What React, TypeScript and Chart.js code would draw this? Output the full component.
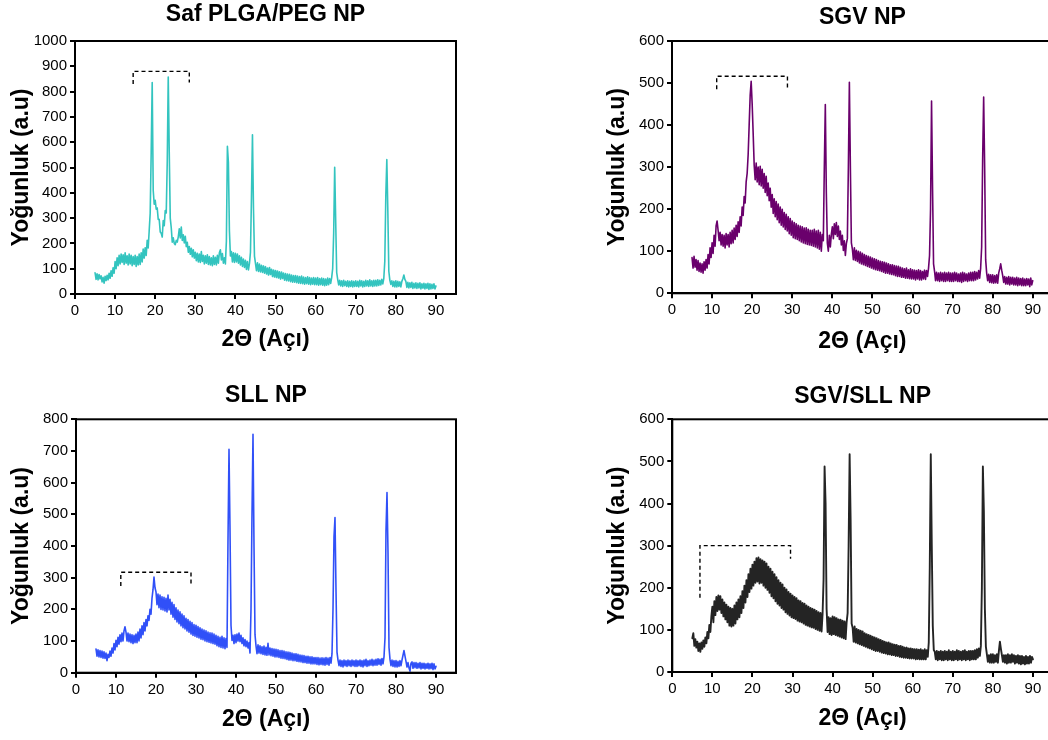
import React, { useEffect, useRef } from "react";
import { Chart, registerables } from "chart.js";

Chart.register(...registerables);

// 2θ sampling grid of the diffractograms (degrees)
const TWO_THETA_START = 5;
const TWO_THETA_STEP = 0.25;

// Tick labels
const X_TICK_VALUES = [0, 10, 20, 30, 40, 50, 60, 70, 80, 90];

// Intensity (a.u.), one value per 0.25° from 5° to 90°, each row = 5°
const PLGA_PEG = [
  84, 58, 80, 56, 77, 60, 72, 48, 66, 43, 70, 53, 74, 56, 82, 62, 92, 70, 104, 82,
  128, 100, 143, 112, 153, 119, 158, 125, 155, 117, 163, 122, 151, 115, 158, 119, 153, 112, 148, 117,
  153, 109, 148, 115, 158, 117, 163, 127, 178, 142, 183, 152, 212, 182, 250, 320, 560, 836, 410, 355,
  370, 335, 340, 295, 295, 245, 240, 225, 290, 270, 330, 320, 520, 858, 560, 300, 262, 205, 222, 200,
  195, 212, 205, 226, 258, 222, 265, 212, 234, 202, 228, 187, 204, 165, 188, 157, 181, 147, 175, 142,
  165, 132, 161, 127, 158, 125, 168, 129, 153, 119, 151, 122, 155, 117, 148, 115, 143, 112, 151, 117,
  145, 115, 153, 122, 163, 175, 135, 160, 122, 143, 119, 210, 584, 520, 250, 150, 168, 127, 163, 125,
  161, 127, 158, 122, 151, 115, 145, 109, 138, 105, 133, 97, 128, 95, 121, 165, 380, 629, 340, 150,
  121, 92, 123, 89, 118, 87, 113, 85, 111, 82, 108, 79, 103, 75, 105, 77, 98, 69, 95, 67,
  93, 65, 91, 63, 88, 59, 87, 61, 83, 55, 81, 53, 79, 52, 78, 49, 75, 47, 73, 47,
  73, 45, 71, 43, 69, 42, 71, 41, 67, 39, 65, 41, 68, 39, 65, 37, 63, 39, 65, 37,
  63, 37, 65, 35, 61, 37, 63, 35, 61, 33, 59, 35, 63, 37, 61, 42, 65, 100, 240, 501,
  290, 85, 58, 36, 54, 32, 52, 30, 54, 33, 50, 30, 52, 28, 50, 30, 52, 28, 50, 30,
  52, 30, 50, 28, 54, 32, 52, 28, 50, 30, 54, 32, 52, 30, 56, 32, 52, 30, 54, 32,
  54, 32, 56, 34, 54, 36, 58, 40, 62, 130, 390, 531, 330, 90, 55, 38, 52, 30, 50, 28,
  52, 28, 50, 30, 48, 28, 50, 60, 75, 58, 50, 26, 46, 24, 44, 26, 46, 22, 42, 24,
  44, 22, 42, 24, 44, 20, 40, 23, 42, 20, 40, 22, 42, 18, 40, 20, 38, 22, 40, 20, 32,
];

const SGV = [
  85, 60, 88, 62, 80, 55, 78, 52, 72, 50, 70, 48, 75, 55, 80, 60, 92, 70, 108, 85,
  120, 95, 138, 112, 160, 172, 150, 125, 145, 115, 140, 112, 138, 108, 142, 115, 140, 110, 145, 118,
  150, 120, 155, 128, 162, 135, 170, 145, 182, 160, 205, 185, 230, 215, 265, 285, 330, 400, 470, 504,
  450, 380, 305, 270, 310, 265, 300, 258, 302, 255, 295, 250, 285, 240, 278, 232, 262, 220, 250, 205,
  235, 190, 225, 182, 218, 175, 212, 168, 205, 162, 200, 158, 192, 152, 188, 148, 182, 142, 178, 138,
  172, 132, 168, 130, 165, 128, 162, 125, 160, 122, 158, 120, 155, 118, 156, 116, 152, 115, 150, 114,
  150, 112, 152, 110, 148, 108, 150, 105, 145, 100, 140, 125, 300, 449, 240, 120, 100, 138, 110, 140,
  158, 130, 165, 140, 168, 135, 160, 128, 148, 115, 138, 102, 125, 90, 118, 130, 300, 502, 300, 120,
  105, 80, 108, 78, 102, 76, 100, 72, 98, 70, 95, 68, 92, 66, 90, 64, 88, 62, 86, 60,
  84, 58, 82, 56, 80, 55, 78, 54, 76, 52, 75, 50, 74, 48, 72, 48, 70, 46, 68, 45,
  68, 44, 66, 42, 65, 40, 64, 40, 62, 38, 60, 38, 58, 36, 60, 36, 56, 35, 58, 34,
  56, 34, 55, 32, 54, 34, 56, 32, 54, 32, 52, 34, 55, 33, 54, 40, 60, 90, 200, 457,
  250, 70, 52, 30, 50, 30, 48, 28, 50, 30, 48, 28, 50, 28, 48, 30, 50, 28, 48, 28,
  48, 28, 50, 30, 48, 28, 46, 28, 48, 26, 50, 28, 48, 30, 46, 28, 48, 30, 50, 30,
  50, 30, 52, 32, 50, 34, 54, 36, 60, 110, 320, 467, 300, 80, 48, 30, 45, 26, 44, 25,
  44, 24, 42, 25, 44, 24, 48, 58, 70, 55, 42, 26, 40, 22, 38, 22, 40, 20, 38, 22,
  38, 20, 36, 20, 38, 18, 36, 20, 35, 18, 36, 18, 34, 18, 35, 20, 34, 16, 36, 20, 30,
];

const SLL = [
  75, 52, 72, 50, 70, 48, 68, 46, 66, 45, 62, 38, 58, 48, 68, 52, 78, 62, 92, 72,
  102, 82, 112, 90, 120, 98, 125, 100, 132, 145, 128, 100, 125, 98, 122, 95, 120, 92, 118, 95,
  122, 95, 128, 100, 138, 110, 148, 120, 158, 132, 168, 148, 180, 165, 200, 185, 235, 262, 302, 268,
  255, 215, 248, 205, 245, 200, 240, 198, 238, 195, 235, 192, 245, 198, 232, 185, 222, 175, 215, 168,
  205, 160, 198, 155, 192, 148, 185, 142, 180, 138, 172, 132, 168, 128, 162, 122, 158, 118, 152, 115,
  150, 112, 146, 110, 142, 106, 138, 104, 135, 100, 132, 98, 128, 96, 126, 94, 125, 92, 122, 90,
  118, 85, 115, 82, 112, 80, 115, 78, 110, 76, 108, 80, 420, 705, 455, 150, 102, 118, 92, 120,
  95, 122, 100, 125, 98, 118, 92, 110, 85, 105, 82, 100, 78, 95, 62, 200, 500, 753, 400, 120,
  85, 60, 88, 62, 85, 60, 82, 58, 84, 56, 80, 55, 93, 56, 78, 54, 76, 52, 75, 50,
  74, 50, 72, 48, 70, 46, 70, 45, 68, 44, 66, 42, 65, 40, 64, 40, 62, 38, 60, 38,
  60, 36, 58, 35, 56, 34, 55, 32, 54, 32, 52, 30, 52, 30, 50, 28, 50, 28, 48, 28,
  48, 26, 48, 25, 46, 26, 47, 25, 46, 24, 48, 26, 46, 24, 48, 30, 60, 200, 430, 490,
  260, 65, 40, 22, 40, 20, 38, 18, 40, 22, 38, 20, 40, 22, 38, 20, 40, 22, 38, 20,
  40, 20, 38, 22, 40, 20, 38, 18, 40, 22, 42, 20, 38, 22, 40, 24, 42, 22, 40, 24,
  42, 24, 44, 26, 42, 24, 45, 28, 50, 110, 450, 569, 380, 80, 42, 22, 40, 20, 38, 18,
  38, 18, 36, 20, 38, 22, 40, 55, 70, 52, 36, 18, 32, 15, 5, 30, 34, 14, 32, 16,
  32, 14, 30, 15, 32, 12, 30, 14, 30, 12, 28, 14, 30, 12, 28, 13, 30, 10, 28, 12, 20,
];

const SGV_SLL = [
  80, 92, 62, 78, 58, 72, 50, 68, 48, 70, 55, 75, 60, 82, 68, 95, 80, 112, 95, 132,
  155, 118, 168, 135, 178, 145, 182, 148, 180, 140, 172, 132, 165, 125, 160, 118, 155, 110, 152, 108,
  150, 110, 158, 115, 165, 125, 172, 130, 180, 140, 192, 152, 205, 165, 218, 178, 232, 190, 245, 198,
  255, 205, 262, 212, 270, 215, 272, 210, 268, 212, 265, 205, 262, 200, 258, 195, 250, 188, 245, 180,
  238, 175, 232, 168, 225, 162, 218, 158, 212, 152, 208, 148, 200, 142, 196, 138, 190, 134, 186, 130,
  182, 128, 178, 126, 175, 122, 170, 120, 168, 118, 164, 115, 162, 112, 158, 110, 155, 108, 152, 106,
  150, 105, 148, 102, 145, 100, 142, 98, 140, 96, 138, 220, 488, 400, 150, 95, 130, 90, 128, 88,
  132, 90, 130, 88, 128, 86, 125, 84, 124, 82, 122, 80, 120, 78, 118, 140, 300, 517, 360, 115,
  105, 72, 108, 70, 102, 68, 100, 66, 98, 64, 96, 62, 92, 60, 90, 58, 88, 56, 86, 54,
  84, 52, 82, 50, 80, 50, 78, 48, 76, 46, 74, 45, 72, 44, 70, 42, 70, 42, 68, 40,
  66, 40, 65, 38, 64, 38, 62, 36, 62, 35, 60, 34, 58, 34, 58, 33, 56, 32, 56, 32,
  55, 32, 54, 30, 54, 31, 53, 30, 54, 30, 52, 30, 54, 30, 52, 36, 70, 250, 517, 300,
  110, 52, 48, 30, 50, 28, 48, 30, 50, 28, 48, 28, 50, 30, 48, 28, 52, 30, 48, 28,
  50, 28, 48, 30, 52, 28, 50, 30, 48, 28, 50, 30, 52, 28, 48, 30, 50, 28, 50, 30,
  50, 30, 52, 30, 54, 34, 56, 38, 62, 200, 488, 380, 150, 60, 42, 24, 40, 22, 42, 22,
  42, 22, 40, 24, 42, 22, 50, 72, 55, 40, 24, 40, 22, 40, 20, 42, 22, 40, 22, 42,
  24, 40, 20, 38, 22, 40, 20, 38, 18, 38, 20, 36, 18, 38, 20, 36, 20, 38, 22, 36, 30,
];

// Dashed brackets marking the amorphous region (2θ, intensity)
const BRACKET_PLGA_X = [14.5, 14.5, 28.5, 28.5];
const BRACKET_PLGA_Y = [830, 880, 880, 836];
const BRACKET_SGV_X = [11.15, 11.15, 28.8, 28.8];
const BRACKET_SGV_Y = [485, 516, 516, 486];
const BRACKET_SLL_X = [11.2, 11.2, 28.75, 28.75];
const BRACKET_SLL_Y = [274, 317, 317, 274];
const BRACKET_MIX_X = [6.9, 6.9, 29.5, 29.5];
const BRACKET_MIX_Y = [176, 300, 300, 269];

const TITLES = ["Saf PLGA/PEG NP", "SGV NP", "SLL NP", "SGV/SLL NP"];
const X_TITLE = "2Θ (Açı)";
const Y_TITLE = "Yoğunluk (a.u)";

const FONT = "'Liberation Sans', Arial, Helvetica, sans-serif";

const framePlugin = {
  id: "frameBox",
  afterDatasetsDraw(chart: any) {
    const { ctx, chartArea: a } = chart;
    ctx.save();
    ctx.strokeStyle = "#000";
    ctx.lineWidth = 2;
    ctx.strokeRect(a.left, a.top, a.right - a.left, a.bottom - a.top);
    ctx.restore();
  },
};

type PanelCfg = {
  title: string;
  values: number[];
  bx: number[];
  by: number[];
  color: string;
  lineW: number;
  yMax: number;
  left: number;
  top: number;
  w: number;
  h: number;
  yAxisW: number;
  xAxisH: number;
  padRight: number;
  titlePadTop: number;
  titlePadBottom: number;
  yTitlePad: number;
  xTitlePadBottom: number;
};

const PANELS: PanelCfg[] = [
  {
    title: TITLES[0], values: PLGA_PEG, bx: BRACKET_PLGA_X, by: BRACKET_PLGA_Y,
    color: "#33c4bf", lineW: 1.6, yMax: 1000,
    left: 0, top: 0, w: 470, h: 372, yAxisW: 75, xAxisH: 78, padRight: 14,
    titlePadTop: 1, titlePadBottom: 12.4, yTitlePad: 8, xTitlePadBottom: 19,
  },
  {
    title: TITLES[1], values: SGV, bx: BRACKET_SGV_X, by: BRACKET_SGV_Y,
    color: "#6a006c", lineW: 1.6, yMax: 600,
    left: 590, top: 0, w: 470, h: 372, yAxisW: 82, xAxisH: 78.7, padRight: 7.2,
    titlePadTop: 4, titlePadBottom: 9.4, yTitlePad: 14, xTitlePadBottom: 17,
  },
  {
    title: TITLES[2], values: SLL, bx: BRACKET_SLL_X, by: BRACKET_SLL_Y,
    color: "#3050f8", lineW: 1.6, yMax: 800,
    left: 0, top: 375, w: 470, h: 365, yAxisW: 76, xAxisH: 67.3, padRight: 14,
    titlePadTop: 7, titlePadBottom: 9.7, yTitlePad: 8, xTitlePadBottom: 7,
  },
  {
    title: TITLES[3], values: SGV_SLL, bx: BRACKET_MIX_X, by: BRACKET_MIX_Y,
    color: "#242424", lineW: 1.9, yMax: 600,
    left: 590, top: 375, w: 470, h: 365, yAxisW: 82.3, xAxisH: 68, padRight: 7,
    titlePadTop: 8, titlePadBottom: 8.7, yTitlePad: 14, xTitlePadBottom: 8,
  },
];

function Panel({ cfg }: { cfg: PanelCfg }) {
  const ref = useRef<HTMLCanvasElement | null>(null);
  useEffect(() => {
    if (!ref.current) return;
    const series = cfg.values.map((y, i) => ({ x: TWO_THETA_START + i * TWO_THETA_STEP, y }));
    const bracket = cfg.bx.map((x, i) => ({ x, y: cfg.by[i] }));
    const gridOpts = {
      display: true,
      drawOnChartArea: false,
      drawTicks: true,
      tickLength: 5,
      color: "#000",
      lineWidth: 2,
    };
    const chart = new Chart(ref.current, {
      type: "line",
      data: {
        datasets: [
          {
            data: series,
            borderColor: cfg.color,
            borderWidth: cfg.lineW,
            borderJoinStyle: "round",
            borderCapStyle: "round",
            pointRadius: 0,
            tension: 0,
            fill: false,
          },
          {
            data: bracket,
            borderColor: "#000",
            borderWidth: 1.4,
            borderDash: [4, 3],
            pointRadius: 0,
            tension: 0,
            fill: false,
          },
        ],
      },
      options: {
        responsive: false,
        maintainAspectRatio: false,
        devicePixelRatio: 1,
        animation: false,
        events: [],
        layout: { padding: { top: 0, left: 0, bottom: 0, right: cfg.padRight } },
        plugins: {
          legend: { display: false },
          tooltip: { enabled: false },
          title: {
            display: true,
            text: cfg.title,
            fullSize: false,
            color: "#000",
            font: { family: FONT, size: 23, weight: "bold", lineHeight: 1.2 },
            padding: { top: cfg.titlePadTop, bottom: cfg.titlePadBottom },
          },
        },
        scales: {
          x: {
            type: "linear",
            min: 0,
            max: 95,
            afterBuildTicks: (s: any) => {
              s.ticks = X_TICK_VALUES.map((v) => ({ value: v }));
            },
            afterFit: (s: any) => {
              s.height = cfg.xAxisH;
            },
            ticks: {
              includeBounds: false,
              color: "#000",
              font: { family: FONT, size: 15 },
              padding: 3,
              maxRotation: 0,
              autoSkip: false,
              callback: (v: any) => String(v),
            },
            grid: gridOpts,
            border: { display: true, color: "#000", width: 2 },
            title: {
              display: true,
              text: X_TITLE,
              color: "#000",
              font: { family: FONT, size: 23, weight: "bold", lineHeight: 1.2 },
              padding: { top: 0, bottom: cfg.xTitlePadBottom },
            },
          },
          y: {
            type: "linear",
            min: 0,
            max: cfg.yMax,
            afterFit: (s: any) => {
              s.width = cfg.yAxisW;
            },
            ticks: {
              stepSize: 100,
              color: "#000",
              font: { family: FONT, size: 15 },
              padding: 3,
              autoSkip: false,
              callback: (v: any) => String(v),
            },
            grid: gridOpts,
            border: { display: true, color: "#000", width: 2 },
            title: {
              display: true,
              text: Y_TITLE,
              color: "#000",
              font: { family: FONT, size: 23, weight: "bold", lineHeight: 1.2 },
              padding: { top: cfg.yTitlePad, bottom: 0 },
            },
          },
        },
      },
      plugins: [framePlugin],
    } as any);
    return () => chart.destroy();
  }, [cfg]);
  return (
    <canvas
      ref={ref}
      width={cfg.w}
      height={cfg.h}
      style={{ position: "absolute", left: cfg.left, top: cfg.top, width: cfg.w, height: cfg.h }}
    />
  );
}

export default function App() {
  return (
    <div
      style={{
        position: "fixed",
        left: 0,
        top: 0,
        width: 1048,
        height: 740,
        overflow: "hidden",
        background: "#fff",
      }}
    >
      {PANELS.map((p, i) => (
        <Panel key={i} cfg={p} />
      ))}
    </div>
  );
}
